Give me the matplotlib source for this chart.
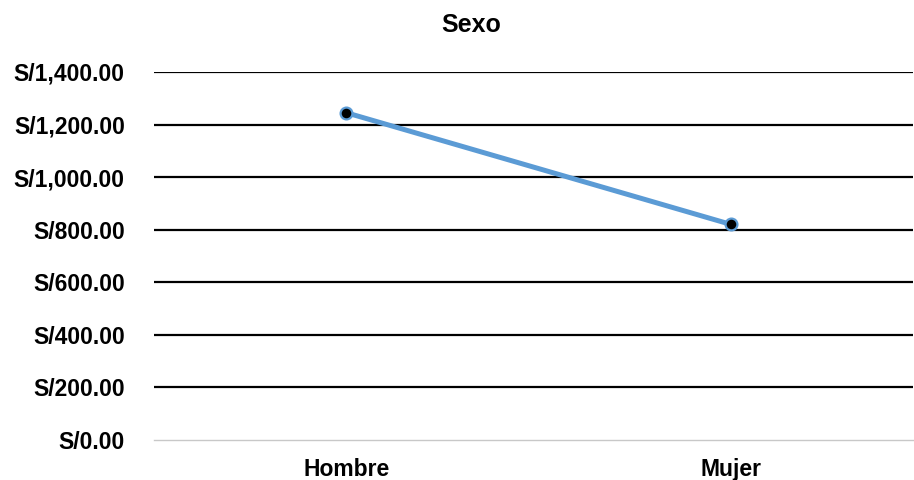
import matplotlib
matplotlib.use("Agg")
import matplotlib.pyplot as plt
from matplotlib.ticker import FuncFormatter

plt.rcParams['font.family'] = ['Liberation Sans', 'DejaVu Sans']

# average income by sex
categories = ["Hombre", "Mujer"]
values = [1245, 820]
y_ticks = [0, 200, 400, 600, 800, 1000, 1200, 1400]

fig = plt.figure(figsize=(9.14, 4.8), dpi=100)
ax = fig.add_axes([154 / 914, 1 - 440 / 480, (913 - 154) / 914, (440 - 72) / 480])

x = list(range(len(categories)))
ax.plot(x, values, color='#5B9BD5', linewidth=3.6, solid_capstyle='round',
        marker='o', markersize=8.5, markerfacecolor='black',
        markeredgecolor='#5B9BD5', markeredgewidth=1.6, zorder=3)

ax.set_ylim(0, 1400)
ax.set_xlim(-0.5, 1.473)
ax.set_yticks(y_ticks)
ax.yaxis.set_major_formatter(FuncFormatter(lambda v, p: "S/{:,.2f}".format(v)))
ax.set_xticks(x)
ax.set_xticklabels(categories)

for t in y_ticks[1:]:
    ax.axhline(t, color='black', linewidth=1.6, zorder=1)

for s in ['top', 'right', 'left']:
    ax.spines[s].set_visible(False)
ax.spines['bottom'].set_color('#C8C8C8')
ax.spines['bottom'].set_linewidth(1.0)

ax.tick_params(axis='both', length=0, labelsize=16.5)
ax.tick_params(axis='y', pad=21)
ax.tick_params(axis='x', pad=13)
for lbl in ax.get_xticklabels() + ax.get_yticklabels():
    lbl.set_fontweight('bold')

fig.text(471 / 914, 1 - 25 / 480, "Sexo", ha='center', va='center',
         fontsize=18, fontweight='bold')

fig.savefig("out.png", dpi=100)
